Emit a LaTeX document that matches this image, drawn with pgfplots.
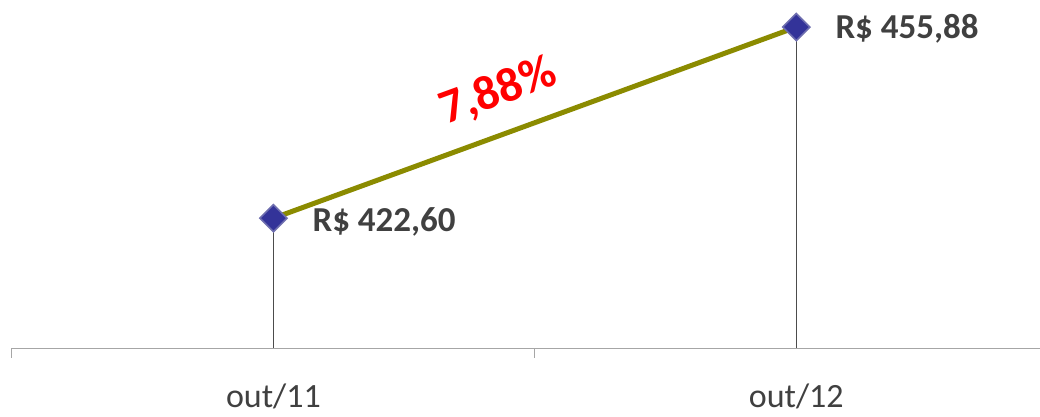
\documentclass[border=0pt]{standalone}
\usepackage{pgfplots}
\pgfplotsset{compat=1.18}
\usepackage{fontspec}
\setmainfont{Carlito}
\definecolor{linecol}{RGB}{139,139,0}
\definecolor{markfill}{RGB}{51,51,153}
\definecolor{markdraw}{RGB}{110,110,175}
\definecolor{lbl}{RGB}{64,64,64}
\begin{document}
\begin{tikzpicture}
\begin{axis}[
    scale only axis,
    width=514pt, height=174pt,
    xmin=-0.5, xmax=1.466,
    ymin=400, ymax=460.6,
    axis x line=bottom,
    axis y line=none,
    axis line style={-, draw=gray!70},
    xtick={0,1},
    xticklabels={out/11, out/12},
    major tick length=0pt,
    tick align=outside,
    tick style={draw=gray!70, line width=0.5pt},
    extra x ticks={-0.5,0.5,1.5},
    extra x tick labels={},
    extra x tick style={major tick length=5pt},
    xticklabel style={anchor=center, yshift=-24pt, font=\fontsize{17}{17}\selectfont, text=lbl},
    clip=false,
]
% drop lines
\addplot[draw=black!70, line width=0.6pt] coordinates {(0,400) (0,422.60)};
\addplot[draw=black!70, line width=0.6pt] coordinates {(1,400) (1,455.88)};
% series
\addplot[draw=linecol, line width=2.5pt, mark=square*, mark size=4.8pt,
    mark options={rotate=45, fill=markfill, draw=markdraw, line width=0.8pt}]
    coordinates {(0,422.60) (1,455.88)}
    node[pos=0, anchor=west, xshift=15pt, yshift=-2pt, text=lbl,
        font=\fontsize{17.5}{17.5}\selectfont\bfseries] {R\$ 422,60}
    node[pos=1, anchor=west, xshift=15pt, yshift=-1pt, text=lbl,
        font=\fontsize{17.5}{17.5}\selectfont\bfseries] {R\$ 455,88};
\node[rotate=20, text=red, font=\fontsize{24}{24}\selectfont\bfseries]
    at (axis cs:0.43,444.6) {7,88\%};
\end{axis}
\pgfresetboundingbox
\path[use as bounding box] (-6pt,-34.5pt) rectangle (514pt,174pt);
\end{tikzpicture}
\end{document}
